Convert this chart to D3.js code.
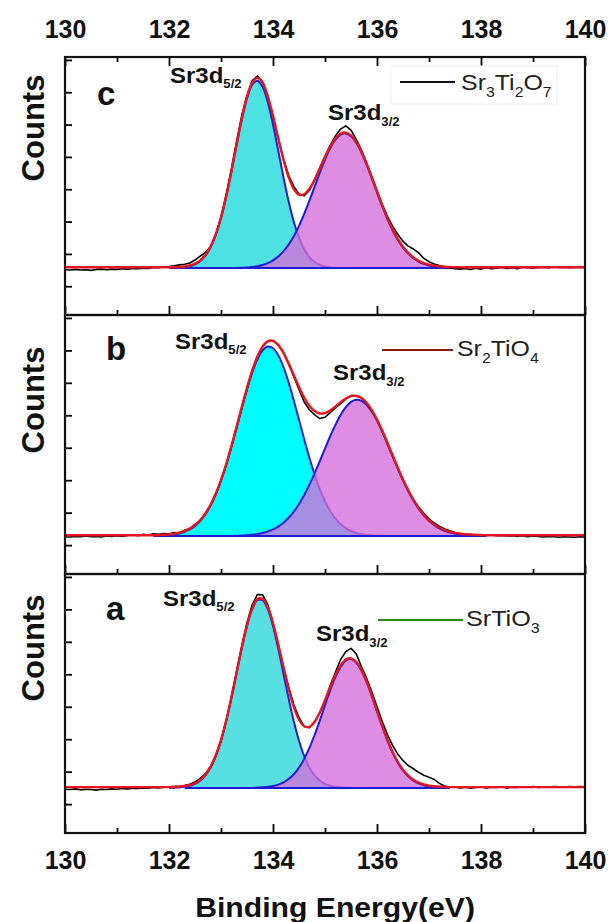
<!DOCTYPE html>
<html><head><meta charset="utf-8">
<script src="https://cdn.jsdelivr.net/npm/d3@7/dist/d3.min.js"></script>
<style>
html,body{margin:0;padding:0;background:#fff;}
svg{display:block;font-family:"Liberation Sans",Arial,Helvetica,sans-serif;}
</style></head><body>
<svg id="chart" width="613" height="922"></svg>
<script>
// ---------------- data ----------------
const energyDomain = [130, 140];
const energyStep = 0.1;
const xMajorTicks = [130, 132, 134, 136, 138, 140];
const xMinorTicks = [131, 133, 135, 137, 139];
const yTicks = [0, 10, 20, 30, 40, 50, 60, 70];
const yDomain = [-8.9, 70.9];

const panelLetters = ["c", "b", "a"];
const backgrounds = [5.6, 2.8, 5.0];
const fitRanges = [[132.1, 137.5], [131.7, 138.1], [132.3, 137.4]];

// measured spectra (a.u.), 130.0 -> 140.0 eV every 0.1 eV
const rawC = [5.1,5.0,5.2,5.0,5.1,4.9,5.2,5.3,5.1,5.3,
5.2,5.4,5.3,5.5,5.4,5.6,5.5,5.8,5.7,6.0,
6.1,6.3,6.6,6.8,7.2,8.1,9.3,10.4,12.3,16.0,
21.3,28.2,36.3,44.8,52.8,59.0,63.6,65.0,63.2,58.7,
52.3,45.9,39.4,34.3,30.9,28.5,28.0,29.6,32.9,36.6,
40.2,43.6,46.5,48.6,49.6,48.3,45.4,42.1,38.0,33.9,
29.6,25.3,21.6,18.5,16.0,13.9,12.4,11.5,10.4,8.6,
7.6,6.9,6.4,6.0,5.7,5.4,5.3,5.5,5.2,5.6,
5.3,5.7,5.4,5.6,5.8,5.5,5.7,5.4,5.9,5.7,
5.6,5.8,5.9,5.7,6.0,5.8,5.9,5.7,5.8,5.9,
5.8];
const rawB = [2.6,2.5,2.7,2.6,2.8,2.6,2.7,2.5,2.8,2.7,
2.9,2.7,3.0,3.2,2.9,3.3,3.1,3.5,3.3,3.6,
3.4,3.9,3.8,4.6,5.1,6.4,7.6,9.8,12.4,15.6,
20.0,24.6,30.4,36.0,42.4,48.0,53.9,58.2,61.3,62.9,
63.0,61.6,59.5,55.8,51.9,48.0,44.1,41.7,40.2,39.0,
39.4,40.8,42.3,43.6,45.0,46.1,46.0,45.4,43.7,41.2,
38.6,35.1,31.3,27.5,23.7,20.1,16.9,14.1,11.7,9.8,
8.1,6.8,5.8,5.0,4.4,3.9,3.6,3.4,3.3,3.1,
3.2,3.0,3.1,2.9,3.0,2.8,2.9,2.7,2.9,2.6,
2.8,2.7,2.5,2.7,2.6,2.4,2.6,2.5,2.4,2.6,
2.5];
const rawA = [4.6,4.5,4.7,4.4,4.6,4.5,4.3,4.6,4.5,4.7,
4.6,4.8,4.7,4.9,4.8,5.0,4.9,5.1,5.0,5.2,
5.3,5.4,5.5,5.7,6.1,6.8,7.9,9.3,11.6,14.9,
19.6,25.7,33.0,40.9,48.8,55.9,61.4,64.6,64.5,61.5,
55.8,49.3,42.4,36.1,30.6,26.7,23.9,23.5,25.3,28.2,
32.0,36.5,40.6,44.5,47.0,48.0,46.3,42.4,38.8,34.6,
30.0,25.5,21.4,18.1,15.4,13.4,11.9,10.9,9.8,8.9,
8.3,7.6,6.4,5.6,5.2,5.3,5.0,5.2,4.9,5.1,
5.3,5.0,5.2,5.1,5.3,5.0,5.2,5.1,5.3,5.2,
5.4,5.1,5.3,5.2,5.4,5.3,5.2,5.4,5.3,5.4,
5.3];

// fitted components (height above background, a.u.), every 0.1 eV from the start energy
const c52Start = 132.0;
const c52 = [0,0.05,0.12,0.27,0.57,1.14,2.15,3.83,6.45,10.28,15.49,22.10,29.81,38.05,45.94,52.49,56.71,57.98,56.09,51.33,44.43,36.40,28.20,20.67,14.34,9.41,5.84,3.43,1.91,1.00,0.50,0.23,0.10,0.04,0];
const c32Start = 133.2;
const c32 = [0,0.06,0.12,0.21,0.36,0.61,0.99,1.56,2.40,3.58,5.17,7.26,9.88,13.06,16.75,20.85,25.18,29.52,33.58,37.08,39.72,41.30,41.67,40.81,38.78,35.77,32.01,27.81,23.44,19.17,15.22,11.73,8.77,6.36,4.48,3.06,2.03,1.31,0.82,0.49,0.29,0.17,0.09,0.05,0];
const b52Start = 131.7;
const b52 = [0,0.08,0.15,0.27,0.47,0.79,1.28,2.02,3.10,4.62,6.69,9.41,12.84,17.03,21.94,27.46,33.37,39.40,45.17,50.31,54.42,57.19,58.37,57.86,55.71,52.10,47.33,41.76,35.79,29.79,24.08,18.92,14.43,10.69,7.69,5.37,3.65,2.41,1.54,0.96,0.58,0.34,0.19,0.11,0.06,0];
const b32Start = 133.2;
const b32 = [0,0.08,0.14,0.24,0.38,0.60,0.92,1.38,2.03,2.92,4.10,5.62,7.54,9.87,12.64,15.82,19.33,23.09,26.95,30.74,34.26,37.32,39.72,41.31,41.98,41.69,40.46,38.37,35.55,32.19,28.49,24.63,20.81,17.18,13.86,10.93,8.42,6.34,4.67,3.35,2.36,1.62,1.08,0.71,0.46,0.28,0.17,0.10,0.06,0];
const a52Start = 132.0;
const a52 = [0,0.07,0.15,0.32,0.65,1.23,2.23,3.83,6.28,9.79,14.53,20.52,27.59,35.32,43.02,49.88,55.06,57.84,57.84,55.06,49.88,43.02,35.32,27.59,20.52,14.53,9.79,6.28,3.83,2.23,1.23,0.65,0.32,0.15,0.07,0];
const a32Start = 133.6;
const a32 = [0,0.09,0.17,0.32,0.59,1.01,1.69,2.72,4.20,6.25,8.94,12.30,16.30,20.77,25.48,30.07,34.14,37.30,39.22,39.67,38.62,36.17,32.59,28.27,23.59,18.94,14.63,10.88,7.78,5.36,3.55,2.26,1.39,0.82,0.46,0.25,0.13,0.07,0];

// legend labels: [text, subscript?]
const legendC = [["Sr",0],["3",1],["Ti",0],["2",1],["O",0],["7",1]];
const legendB = [["Sr",0],["2",1],["TiO",0],["4",1]];
const legendA = [["SrTiO",0],["3",1]];
const peakLabel52 = [["Sr3d",0],["5/2",1]];
const peakLabel32 = [["Sr3d",0],["3/2",1]];

// ---------------- layout / style ----------------
const panelTop = [57, 315, 574];
const panelBottom = [315, 574, 833];
const cyanFill = ["#4ee1e4", "#00fdfd", "#58dfe2"];
const magentaFill = "#d56eda";
const magentaOpacity = 0.78;
const blue = "#1c1cd2";
const legendColors = ["#111111", "#8e1b1b", "#2a8a22"];
const legendPos = [{x1:400,x2:455,y:82,tx:461,ty:90,w:91,box:true},{x1:382,x2:453,y:350,tx:457,ty:356,w:82,box:false},{x1:378,x2:463,y:620,tx:466,ty:626,w:74,box:false}];
const letterPos = [[97,105],[106,360],[106,620]];
const p52Pos = [[170,83],[175,349],[163,606]];
const p32Pos = [[328,120],[333,380],[316,641]];
const countsY = [128, 400, 648];

const raws = [rawC, rawB, rawA];
const comps = [[[c52Start,c52],[c32Start,c32]],[[b52Start,b52],[b32Start,b32]],[[a52Start,a52],[a32Start,a32]]];
const legends = [legendC, legendB, legendA];

const svg = d3.select("#chart");
const x = d3.scaleLinear().domain(energyDomain).range([65, 585]);
const energies = rawC.map((_, i) => +(energyDomain[0] + i * energyStep).toFixed(1));
const toPts = (start, vals) => vals.map((v, j) => [+(start + j * energyStep).toFixed(1), v]);
const valueAt = (pts, e) => { const f = pts.find(p => Math.abs(p[0] - e) < 1e-6); return f ? f[1] : 0; };

function richText(sel, segs, mainSize, subSize, subDy, weight) {
  const t = sel.attr("font-size", mainSize).attr("font-weight", weight);
  let inSub = false;
  segs.forEach(([txt, sub]) => {
    const ts = t.append("tspan").text(txt);
    if (sub && !inSub) { ts.attr("dy", subDy).attr("font-size", subSize); inSub = true; }
    else if (sub && inSub) { ts.attr("font-size", subSize); }
    else if (!sub && inSub) { ts.attr("dy", -subDy); inSub = false; }
  });
  return t;
}
function fitWidth(sel, target) {
  const bb = sel.node().getBBox();
  if (!bb.width) return;
  const s = target / bb.width, x0 = bb.x;
  sel.attr("transform", `translate(${x0},0) scale(${s},1) translate(${-x0},0)`);
}

panelLetters.forEach((letter, i) => {
  const bg = backgrounds[i];
  const y = d3.scaleLinear().domain(yDomain).range([panelBottom[i], panelTop[i]]);
  const g = svg.append("g");
  const cid = "clip" + i;
  svg.append("clipPath").attr("id", cid).append("rect")
    .attr("x", 65).attr("y", panelTop[i]).attr("width", 520).attr("height", panelBottom[i] - panelTop[i]);
  const plot = g.append("g").attr("clip-path", `url(#${cid})`);

  const src1 = toPts(...comps[i][0]);
  const src2 = toPts(...comps[i][1]);
  const area = d3.area().x(d => x(d[0])).y0(y(bg)).y1(d => y(bg + d[1])).curve(d3.curveCatmullRom);
  const line = d3.line().x(d => x(d[0])).y(d => y(bg + d[1])).curve(d3.curveCatmullRom);

  plot.append("path").attr("d", area(src1)).attr("fill", cyanFill[i]);
  plot.append("path").attr("d", line(src1)).attr("fill", "none").attr("stroke", blue).attr("stroke-width", 2);
  plot.append("path").attr("d", area(src2)).attr("fill", magentaFill).attr("fill-opacity", magentaOpacity);
  plot.append("path").attr("d", line(src2)).attr("fill", "none").attr("stroke", blue).attr("stroke-width", 2);
  // fit background line
  plot.append("line").attr("x1", x(fitRanges[i][0])).attr("x2", x(fitRanges[i][1]))
    .attr("y1", y(bg)).attr("y2", y(bg)).attr("stroke", blue).attr("stroke-width", 2);

  // raw data
  const rawPts = raws[i].map((v, j) => [energies[j], v]);
  plot.append("path").attr("d", d3.line().x(d => x(d[0])).y(d => y(d[1]))(rawPts))
    .attr("fill", "none").attr("stroke", "#000").attr("stroke-width", 1.6).attr("stroke-linejoin", "round");

  // fitted envelope
  const env = energies.map(e => [e, bg + valueAt(src1, e) + valueAt(src2, e)]);
  plot.append("path").attr("d", d3.line().x(d => x(d[0])).y(d => y(d[1])).curve(d3.curveCatmullRom)(env))
    .attr("fill", "none").attr("stroke", "#e8161c").attr("stroke-width", 2.4).attr("stroke-linejoin", "round")
    .attr("transform", "translate(0,-0.8)");

  // y ticks (inward, left)
  g.append("g").attr("transform", `translate(65,0)`)
    .call(d3.axisRight(y).tickValues(yTicks).tickSize(7).tickFormat(""))
    .call(a => a.select(".domain").remove())
    .call(a => a.selectAll("line").attr("stroke-width", 1.8));

  // x ticks at panel bottom (inward)
  const bottomMajor = d3.axisBottom(x).tickValues(xMajorTicks).tickSize(-9).tickPadding(18).tickFormat(i === 2 ? d3.format("d") : "");
  const ga = g.append("g").attr("transform", `translate(0,${panelBottom[i]})`).call(bottomMajor);
  ga.select(".domain").remove();
  ga.selectAll("line").attr("stroke-width", 1.8);
  ga.selectAll("text").attr("font-size", 25).attr("font-weight", "bold").attr("fill", "#111")
    .attr("font-family", '"Liberation Sans",Arial,sans-serif');
  g.append("g").attr("transform", `translate(0,${panelBottom[i]})`)
    .call(d3.axisBottom(x).tickValues(xMinorTicks).tickSize(-5).tickFormat(""))
    .call(a => a.select(".domain").remove())
    .call(a => a.selectAll("line").attr("stroke-width", 1.8));

  if (i === 0) {
    const gt = g.append("g").attr("transform", `translate(0,${panelTop[i]})`)
      .call(d3.axisTop(x).tickValues(xMajorTicks).tickSize(-9).tickPadding(19).tickFormat(d3.format("d")));
    gt.select(".domain").remove();
    gt.selectAll("line").attr("stroke-width", 1.8);
    gt.selectAll("text").attr("font-size", 25).attr("font-weight", "bold").attr("fill", "#111")
      .attr("font-family", '"Liberation Sans",Arial,sans-serif');
    g.append("g").attr("transform", `translate(0,${panelTop[i]})`)
      .call(d3.axisTop(x).tickValues(xMinorTicks).tickSize(-5).tickFormat(""))
      .call(a => a.select(".domain").remove())
      .call(a => a.selectAll("line").attr("stroke-width", 1.8));
  }

  // frame
  g.append("rect").attr("x", 65).attr("y", panelTop[i]).attr("width", 520).attr("height", panelBottom[i] - panelTop[i])
    .attr("fill", "none").attr("stroke", "#111").attr("stroke-width", 2.2);

  // panel letter
  g.append("text").attr("x", letterPos[i][0]).attr("y", letterPos[i][1]).text(letter)
    .attr("font-size", 33).attr("font-weight", "bold").attr("fill", "#111");

  // peak labels
  fitWidth(richText(g.append("text").attr("x", p52Pos[i][0]).attr("y", p52Pos[i][1]).attr("fill", "#111"), peakLabel52, 22, 12, 5, "bold"), 72);
  fitWidth(richText(g.append("text").attr("x", p32Pos[i][0]).attr("y", p32Pos[i][1]).attr("fill", "#111"), peakLabel32, 22, 12, 6, "bold"), 72);

  // legend
  const lp = legendPos[i];
  if (lp.box) {
    g.append("rect").attr("x", 391).attr("y", 66).attr("width", 166).attr("height", 38)
      .attr("fill", "none").attr("stroke", "#eeeeee").attr("stroke-width", 1);
  }
  g.append("line").attr("x1", lp.x1).attr("x2", lp.x2).attr("y1", lp.y).attr("y2", lp.y)
    .attr("stroke", legendColors[i]).attr("stroke-width", 2);
  fitWidth(richText(g.append("text").attr("x", lp.tx).attr("y", lp.ty).attr("fill", "#222"), legends[i], 22, 14, 7, "normal"), lp.w);

  // y axis title
  g.append("text").attr("transform", `translate(44,${countsY[i]}) rotate(-90)`)
    .attr("text-anchor", "middle").attr("font-size", 31).attr("font-weight", "bold").attr("fill", "#111").text("Counts");
});

fitWidth(svg.append("text").attr("x", 325).attr("y", 917).attr("text-anchor", "middle")
  .attr("font-size", 28).attr("font-weight", "bold").attr("fill", "#111").text("Binding Energy(eV)"), 280);
</script>
</body></html>
